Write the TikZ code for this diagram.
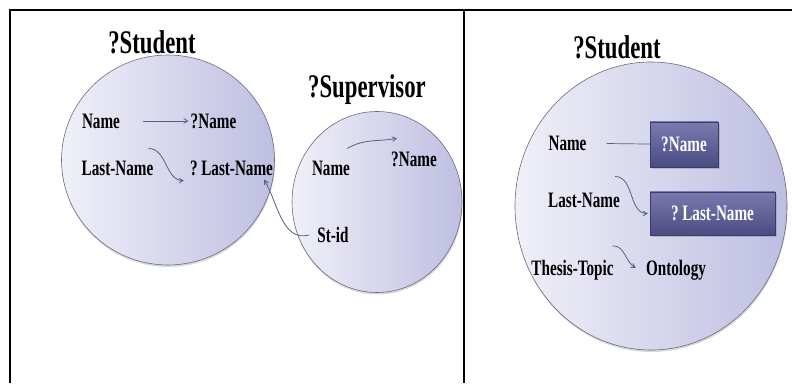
\documentclass[tikz,border=0pt]{standalone}
\usepackage{fontspec}
\setmainfont{Liberation Serif}[FakeStretch=0.69]
\usetikzlibrary{positioning,arrows,shapes,shadows,calc}
\definecolor{cirlight}{RGB}{240,240,248}
\definecolor{cirfill}{RGB}{190,190,226}
\definecolor{cirline}{RGB}{105,105,130}
\definecolor{boxtop}{RGB}{122,122,176}
\definecolor{boxbot}{RGB}{76,76,132}
\definecolor{boxline}{RGB}{60,60,104}
\definecolor{arcol}{RGB}{85,95,135}
\tikzstyle{varcirc}=[ellipse, draw=cirline, left color=cirlight, right color=cirfill, semithick,
drop shadow={opacity=0.3, shadow xshift=0.5pt, shadow yshift=-2pt}]
\tikzstyle{ttl}=[font=\fontsize{33}{35}\selectfont\bfseries, inner sep=1pt]
\tikzstyle{lbl}=[font=\fontsize{22}{24}\selectfont\bfseries, inner sep=2pt]
\tikzstyle{valbox}=[rectangle, draw=boxline, top color=boxtop, bottom color=boxbot, text=white,
font=\fontsize{22}{24}\selectfont\bfseries, drop shadow={opacity=0.35}]
\tikzstyle{line}=[-, line width=0.7pt, arcol]
\tikzstyle{aline}=[->, >=angle 60, line width=0.8pt, arcol]
\tikzstyle{frame}=[line width=2pt]

\begin{document}
\begin{tikzpicture}[x=1pt, y=1pt]
    \useasboundingbox (0,0) rectangle (792,383);

% frame
    \draw[frame] (10,0) -- (10,373) -- (792,373);
    \draw[frame] (464,373) -- (464,0);

% left: student and supervisor
    \node (stud) [varcirc, minimum width=213pt, minimum height=210pt] at (168,223) {};
    \node (sup) [varcirc, minimum width=170pt, minimum height=181pt] at (377,181) {};
    \node (studttl) [ttl] at (152,341) {?Student};
    \node (supttl) [ttl] at (367,293) {?Supervisor};

    \node (sname) [lbl] at (101,262) {Name};
    \node (sqname) [lbl] at (213.5,262) {?Name};
    \node (slname) [lbl] at (117.5,215) {Last-Name};
    \node (sqlname) [lbl] at (231.5,215) {?\,Last-Name};

    \node (supname) [lbl] at (331,215) {Name};
    \node (supqname) [lbl] at (414,224) {?Name};
    \node (stid) [lbl] at (333,148) {St-id};

% right: student with boxes
    \node (rstud) [varcirc, minimum width=272pt, minimum height=288pt] at (651,177) {};
    \node (rstudttl) [ttl] at (617,336) {?Student};

    \node (rname) [lbl] at (567.5,240) {Name};
    \node (rqname) [valbox, minimum width=68pt, minimum height=45pt] at (684,238.5) {?Name};
    \node (rlname) [lbl] at (584,183) {Last-Name};
    \node (rqlname) [valbox, minimum width=125pt, minimum height=43pt] at (712.5,169.5) {?\,Last-Name};
    \node (thesis) [lbl] at (572.5,113) {Thesis-Topic};
    \node (onto) [lbl] at (676,113) {Ontology};

   \draw[aline, shorten <=21pt] (sname) -- (sqname);
   \draw[aline] ([xshift=-7pt,yshift=10pt]slname.north east) to[out=0,in=180] ([xshift=-4pt,yshift=-3pt]sqlname.south west);
   \draw[aline] ([xshift=-5pt,yshift=10pt]supname.north east) to[out=30,in=190] ([xshift=8pt,yshift=11pt]supqname.north west);
   \draw[aline] ([xshift=-6pt]stid.west) to[out=195,in=-60] ([xshift=-11pt,yshift=-2pt]sqlname.south east);

   \draw[line, shorten <=18pt] (rname) -- (rqname);
   \draw[aline] ([xshift=-7pt,yshift=14pt]rlname.north east) to[out=0,in=180] ([xshift=-2pt]rqlname.west);
   \draw[aline] ([xshift=-3pt,yshift=12pt]thesis.north east) to[out=0,in=150] ([xshift=-8pt,yshift=2pt]onto.west);

\end{tikzpicture}
\end{document}
